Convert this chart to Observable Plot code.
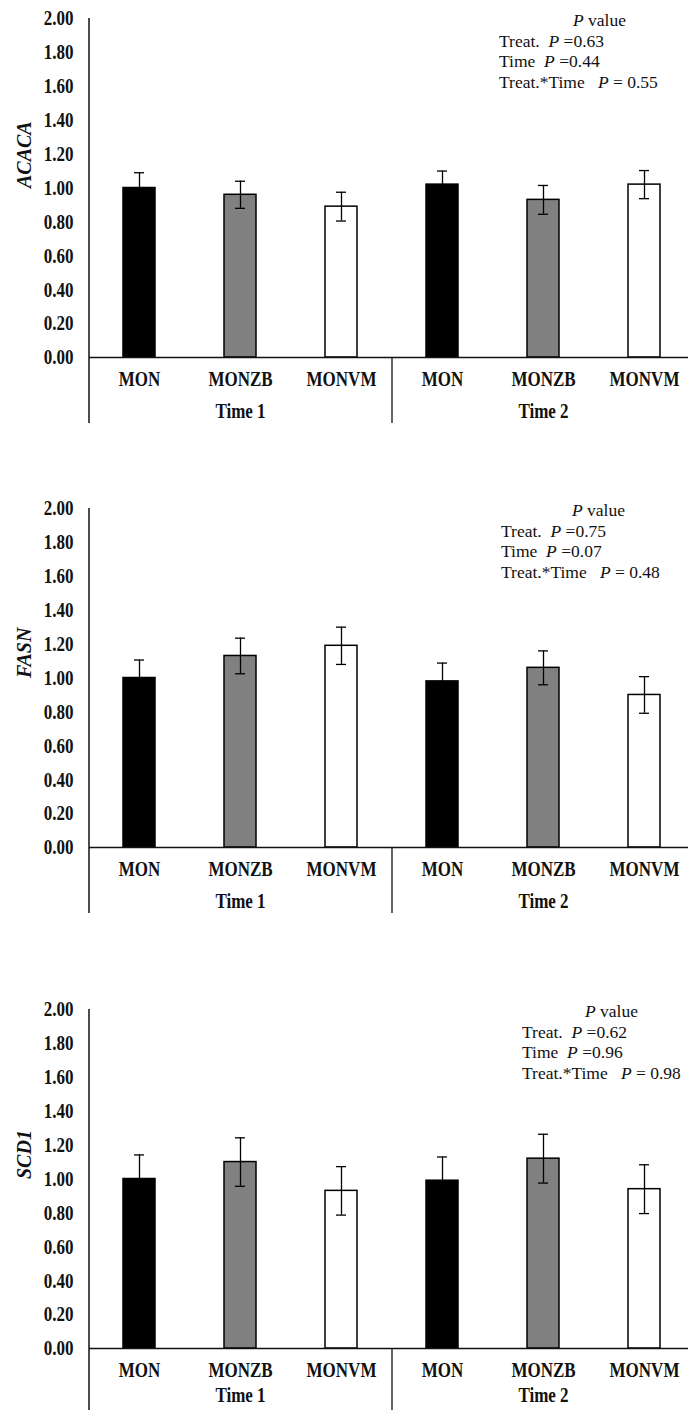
<!DOCTYPE html>
<html><head><meta charset="utf-8">
<script src="https://cdn.jsdelivr.net/npm/d3@7"></script>
<script src="https://cdn.jsdelivr.net/npm/@observablehq/plot@0.6"></script>
<style>
html,body{margin:0;padding:0;background:#fff;}
body{width:688px;height:1410px;position:relative;overflow:hidden;font-family:"Liberation Serif","Times New Roman",serif;}
.panel{position:absolute;left:0;width:688px;}
.pv{position:absolute;font-size:17.5px;font-family:"Liberation Serif","Times New Roman",serif;color:#111;white-space:pre;line-height:20.5px;}
</style></head><body>
<script>
// ---- data ----
const treatments = ["MON", "MONZB", "MONVM"];
const times = ["Time 1", "Time 2"];
const yTicks = [0, 0.2, 0.4, 0.6, 0.8, 1.0, 1.2, 1.4, 1.6, 1.8, 2.0];
const genes = ["ACACA", "FASN", "SCD1"];
// order: Time 1 (MON, MONZB, MONVM), Time 2 (MON, MONZB, MONVM)
const acacaMean = [1.00, 0.96, 0.89, 1.02, 0.93, 1.02];
const acacaSE   = [0.09, 0.08, 0.085, 0.08, 0.085, 0.083];
const fasnMean  = [1.00, 1.13, 1.19, 0.98, 1.06, 0.90];
const fasnSE    = [0.106, 0.105, 0.11, 0.108, 0.10, 0.108];
const scd1Mean  = [1.00, 1.10, 0.93, 0.99, 1.12, 0.94];
const scd1SE    = [0.142, 0.143, 0.143, 0.14, 0.144, 0.144];
const pTreat = ["0.63", "0.75", "0.62"];
const pTime  = ["0.44", "0.07", "0.96"];
const pInter = ["0.55", "0.48", "0.98"];

// ---- layout ----
const W = 688, H = 440, left = 89, right = 695, yTop = 18, yBase = 357, yBottom = 423;
const step = (right - left) / 6;
const yLow = -(yBottom - yBase) / ((yBase - yTop) / 2);
const panelTop = [0, 490, 991];
const groupDy = [54, 54, 47];
const pvLeft = [499, 501, 522];
const pvTitleOffset = [74, 71, 63];

function panel(gene, means, ses, gdy) {
  const data = [];
  times.forEach((t, ti) => treatments.forEach((tr, ri) => {
    const i = ti * 3 + ri;
    data.push({key: t + "|" + tr, time: t, treat: tr, mean: means[i], se: ses[i]});
  }));
  const keys = data.map(d => d.key);
  const txt = {fontWeight: "bold", fontSize: 17, fill: "#111"};
  return Plot.plot({
    width: W, height: H,
    marginTop: yTop, marginBottom: H - yBottom, marginLeft: left, marginRight: 0,
    style: {fontFamily: '"Liberation Serif","Times New Roman",serif', color: "#111", background: "transparent"},
    x: {domain: keys, range: [left, right], paddingInner: 0.68, paddingOuter: 0.34, axis: null},
    y: {domain: [0, 2], range: [yBase, yTop], axis: null},
    color: {domain: treatments, range: ["#000000", "#808080", "#ffffff"]},
    marks: [
      Plot.barY(data, {x: "key", y: "mean", fill: "treat", stroke: "#000", strokeWidth: 1.5}),
      Plot.ruleX(data, {x: "key", y1: d => d.mean - d.se, y2: d => d.mean + d.se, stroke: "#000", strokeWidth: 1.3}),
      Plot.tickY(data, {x: "key", y: d => d.mean + d.se, inset: 11, stroke: "#000", strokeWidth: 1.3}),
      Plot.tickY(data, {x: "key", y: d => d.mean - d.se, inset: 11, stroke: "#000", strokeWidth: 1.3}),
      Plot.ruleY([0], {stroke: "#111", strokeWidth: 1.5}),
      Plot.ruleX([keys[0]], {y1: 2, y2: yLow, dx: -step / 2, stroke: "#111", strokeWidth: 1.5}),
      Plot.ruleX([keys[3]], {y1: 0, y2: yLow, dx: -step / 2, stroke: "#111", strokeWidth: 1.3}),
      Plot.axisY({ticks: yTicks, tickFormat: d3.format(".2f"), tickSize: 0, tickPadding: 16, label: null, ...txt}),
      Plot.text(data, {x: "key", y: 0, text: "treat", dy: 22, ...txt}),
      Plot.text(times, {x: t => t + "|MONZB", y: 0, text: d => d, dy: gdy, ...txt}),
      Plot.text([gene], {frameAnchor: "left", y: 1, dx: -65, rotate: -90, fontWeight: "bold", fontStyle: "italic", fontSize: 20, fill: "#111"})
    ]
  });
}

// stretch bold labels vertically (the reference glyphs are tall and narrow)
function stretchText(svg) {
  svg.querySelectorAll("text").forEach(t => {
    const prev = t.getAttribute("transform") || "";
    if (prev.includes("rotate")) return;
    const b = t.getBBox();
    const cx = b.x + b.width / 2, cy = b.y + b.height / 2;
    t.setAttribute("transform", `${prev} translate(${cx},${cy}) scale(1,1.25) translate(${-cx},${-cy})`);
  });
}

const means = [acacaMean, fasnMean, scd1Mean];
const ses = [acacaSE, fasnSE, scd1SE];
genes.forEach((g, i) => {
  const div = document.createElement("div");
  div.className = "panel";
  div.style.top = panelTop[i] + "px";
  const svg = panel(g, means[i], ses[i], groupDy[i]);
  div.appendChild(svg);
  document.body.appendChild(div);
  stretchText(svg);

  const pv = document.createElement("div");
  pv.className = "pv";
  pv.style.top = (panelTop[i] + 10) + "px";
  pv.style.left = pvLeft[i] + "px";
  pv.innerHTML =
    `<div style="padding-left:${pvTitleOffset[i]}px"><i>P</i> value</div>` +
    `<div>Treat.  <i>P</i> =${pTreat[i]}</div>` +
    `<div>Time  <i>P</i> =${pTime[i]}</div>` +
    `<div>Treat.*Time   <i>P</i> = ${pInter[i]}</div>`;
  document.body.appendChild(pv);
});
</script>
</body></html>
